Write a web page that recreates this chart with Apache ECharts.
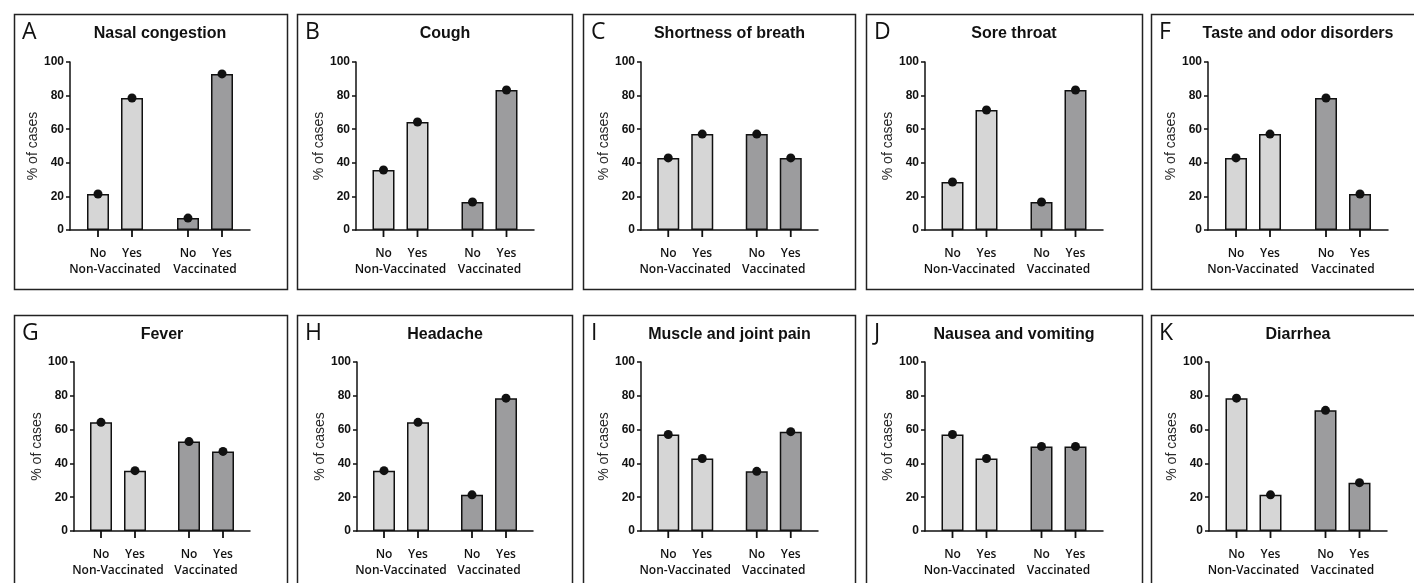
<!DOCTYPE html>
<html>
<head>
<meta charset="utf-8">
<script src="https://cdn.jsdelivr.net/npm/echarts@6/dist/echarts.min.js"></script>
<style>
  html, body { margin: 0; padding: 0; background: #ffffff; }
  #chart { width: 1414px; height: 583px; }
</style>
</head>
<body>
<div id="chart"></div>
<script>
// ---------------- data ----------------
const panelLetters = ['A', 'B', 'C', 'D', 'F', 'G', 'H', 'I', 'J', 'K'];
const panelTitles = ['Nasal congestion', 'Cough', 'Shortness of breath', 'Sore throat',
  'Taste and odor disorders', 'Fever', 'Headache', 'Muscle and joint pain',
  'Nausea and vomiting', 'Diarrhea'];
const groups = ['Non-Vaccinated', 'Vaccinated'];
const answers = ['No', 'Yes'];
const nonVacNo  = [21.4, 35.7, 42.9, 28.6, 42.9, 64.3, 35.7, 57.1, 57.1, 78.6];
const nonVacYes = [78.6, 64.3, 57.1, 71.4, 57.1, 35.7, 64.3, 42.9, 42.9, 21.4];
const vacNo     = [7.1, 16.7, 57.1, 16.7, 78.6, 52.9, 21.4, 35.3, 50.0, 71.4];
const vacYes    = [92.9, 83.3, 42.9, 83.3, 21.4, 47.1, 78.6, 58.8, 50.0, 28.6];
const yTicks = [0, 20, 40, 60, 80, 100];
const yAxisTitle = '% of cases';

// ---------------- layout / style ----------------
const LIGHT = '#d6d6d6';
const DARK = '#9c9c9e';
const INK = '#111111';
const BAR_W = 22;
const GAP_PX = 12;
const TICK_LEN = 7;
const boxLefts = [12, 295, 581, 864, 1149];
const boxRights = [285, 570, 853, 1140, 1424];
const rowTops = [12, 313];
const BOX_H = 275;
const gridLefts = [70, 356, 641, 925, 1208, 74, 357, 641, 925, 1209];
const gridWidths = [180, 178, 177, 178, 180, 176, 176, 177, 178, 178];
const gridTops = [62, 362];
const gridHeights = [168, 169];

const N = panelTitles.length;
const grids = [], xAxes = [], yAxes = [], series = [], titles = [], graphics = [];
const barGapPct = (GAP_PX / BAR_W * 100) + '%';

for (let i = 0; i < N; i++) {
  const row = i < 5 ? 0 : 1;
  const col = i % 5;
  const bx = boxLefts[col], by = rowTops[row];
  graphics.push({
    type: 'rect', left: bx, top: by,
    shape: { width: boxRights[col] - bx, height: BOX_H },
    style: { fill: 'none', stroke: '#222', lineWidth: 1.5 },
    z: 0
  });
  graphics.push({
    type: 'text', left: bx + 10, top: by + 9,
    style: { text: panelLetters[i], font: '400 23px "Open Sans"', fill: INK }
  });
  titles.push({
    text: panelTitles[i],
    left: gridLefts[i] + gridWidths[i] / 2,
    top: by + 14,
    textAlign: 'center',
    padding: 0,
    textStyle: { fontFamily: 'Liberation Sans', fontWeight: 'bold', fontSize: 16, color: INK }
  });
  grids.push({
    left: gridLefts[i], top: gridTops[row],
    width: gridWidths[i], height: gridHeights[row],
    containLabel: false
  });
  xAxes.push({
    type: 'category', gridIndex: i, data: groups,
    axisLine: { lineStyle: { color: INK, width: 1.5 } },
    axisTick: { show: false },
    axisLabel: {
      interval: 0, margin: 16,
      formatter: v => '{a|' + answers[0] + '}{a|' + answers[1] + '}\n{b|' + v + '}',
      rich: {
        a: { width: BAR_W + GAP_PX, align: 'center', fontFamily: 'Open Sans', fontWeight: 600, fontSize: 12, color: INK, lineHeight: 16 },
        b: { fontFamily: 'Open Sans', fontWeight: 600, fontSize: 12, color: INK, lineHeight: 16 }
      }
    },
    splitLine: { show: false }
  });
  yAxes.push({
    type: 'value', gridIndex: i, min: yTicks[0], max: yTicks[yTicks.length - 1],
    interval: yTicks[1] - yTicks[0],
    name: yAxisTitle, nameLocation: 'middle', nameGap: 29,
    nameTextStyle: { fontFamily: 'Liberation Sans', fontSize: 14, color: '#2a2a2a' },
    axisLine: { show: true, lineStyle: { color: INK, width: 1.5 } },
    axisTick: { show: true, length: 4, lineStyle: { color: INK, width: 1.5 } },
    axisLabel: { margin: 6, fontFamily: 'Liberation Sans', fontWeight: 'bold', fontSize: 12, color: INK },
    splitLine: { show: false }
  });

  const colorFn = p => (p.dataIndex === 0 ? LIGHT : DARK);
  const noData = [nonVacNo[i], vacNo[i]];
  const yesData = [nonVacYes[i], vacYes[i]];
  [noData, yesData].forEach((d, k) => {
    series.push({
      type: 'bar', name: answers[k], xAxisIndex: i, yAxisIndex: i, data: d,
      barWidth: BAR_W, barGap: barGapPct,
      itemStyle: { color: colorFn, borderColor: INK, borderWidth: 1.5 },
      silent: true, animation: false, z: 2
    });
  });
  [noData, yesData].forEach((d, k) => {
    series.push({
      type: 'pictorialBar', name: answers[k] + ' mean', xAxisIndex: i, yAxisIndex: i, data: d,
      barWidth: BAR_W, barGap: barGapPct,
      symbol: 'circle', symbolSize: 9, symbolPosition: 'end', symbolOffset: [0, '-50%'],
      itemStyle: { color: INK },
      silent: true, animation: false, z: 5
    });
  });
}

const chart = echarts.init(document.getElementById('chart'), null, { renderer: 'canvas' });
chart.setOption({
  backgroundColor: '#ffffff',
  animation: false,
  title: titles,
  grid: grids,
  xAxis: xAxes,
  yAxis: yAxes,
  series: series,
  graphic: graphics
});

// x-axis ticks under each bar, positioned through the axes' own scales
const off = (BAR_W + GAP_PX) / 2;
const tickGraphics = [];
for (let i = 0; i < N; i++) {
  groups.forEach((g, gi) => {
    const p = chart.convertToPixel({ xAxisIndex: i, yAxisIndex: i }, [gi, 0]);
    if (!p) return;
    [-off, off].forEach(dx => {
      tickGraphics.push({
        type: 'line',
        shape: { x1: p[0] + dx, y1: p[1], x2: p[0] + dx, y2: p[1] + TICK_LEN },
        style: { stroke: INK, lineWidth: 1.8 },
        z: 10
      });
    });
  });
}
chart.setOption({ graphic: graphics.concat(tickGraphics) });
</script>
</body>
</html>
